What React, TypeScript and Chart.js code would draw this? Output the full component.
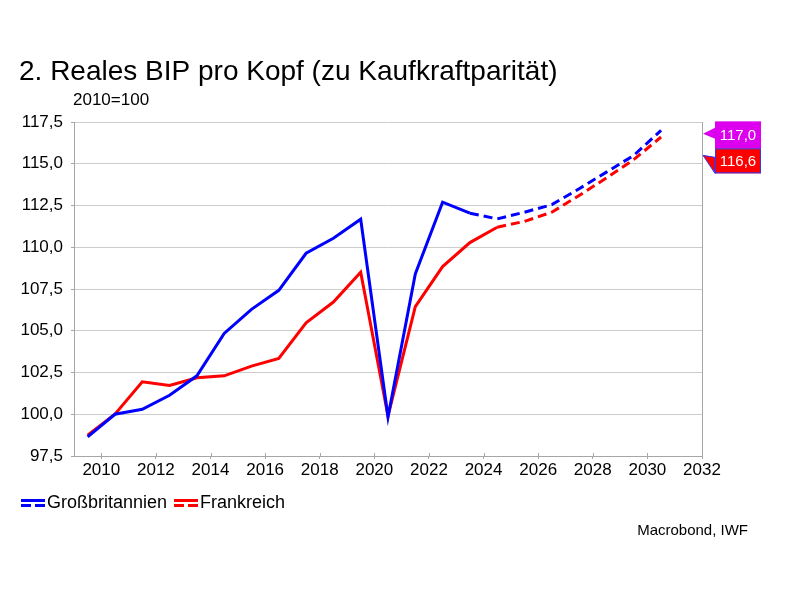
import { useEffect, useRef } from "react";
import { Chart, registerables } from "chart.js";

Chart.register(...registerables);

const years = [2009, 2010, 2011, 2012, 2013, 2014, 2015, 2016, 2017, 2018, 2019, 2020, 2021, 2022, 2023, 2024, 2025, 2026, 2027, 2028, 2029, 2030];
const gbValues = [98.64, 100.0, 100.3, 101.14, 102.3, 104.84, 106.28, 107.42, 109.64, 110.54, 111.68, 99.84, 108.4, 112.7, 112.04, 111.7, 112.1, 112.55, 113.5, 114.5, 115.5, 117.0];
const frValues = [98.74, 100.0, 101.94, 101.72, 102.18, 102.3, 102.88, 103.34, 105.48, 106.72, 108.5, 99.9, 106.44, 108.84, 110.28, 111.2, 111.55, 112.1, 113.1, 114.15, 115.25, 116.6];
const gbForecastFrom = 2023;
const frForecastFrom = 2024;
const xTickYears = [2010, 2012, 2014, 2016, 2018, 2020, 2022, 2024, 2026, 2028, 2030, 2032];
const seriesNames = ["Großbritannien", "Frankreich"];
const titleText = "2. Reales BIP pro Kopf (zu Kaufkraftparität)";
const subtitleText = "2010=100";
const sourceText = "Macrobond, IWF";

const FONT = '"Liberation Sans", Arial, sans-serif';
const fmt = (v: number) => v.toFixed(1).replace(".", ",");

export default function App() {
  const ref = useRef<HTMLCanvasElement | null>(null);

  useEffect(() => {
    document.body.style.margin = "0";
    const canvas = ref.current;
    if (!canvas) return;

    const overlay = {
      id: "overlay",
      afterDraw(chart: any) {
        const ctx = chart.ctx;
        const area = chart.chartArea;
        const y = chart.scales.y;
        const x = chart.scales.x;
        ctx.save();
        // right border
        ctx.strokeStyle = "#a6a6a6";
        ctx.lineWidth = 1;
        ctx.beginPath();
        ctx.moveTo(Math.round(area.right) + 0.5, area.top);
        ctx.lineTo(Math.round(area.right) + 0.5, area.bottom);
        ctx.stroke();
        // small tick marks crossing into the plot
        ctx.beginPath();
        xTickYears.forEach((v) => {
          const px = Math.round(x.getPixelForValue(v)) + 0.5;
          ctx.moveTo(px, area.bottom - 3);
          ctx.lineTo(px, area.bottom);
        });
        ctx.stroke();

        // title
        ctx.fillStyle = "#000";
        ctx.textAlign = "left";
        ctx.textBaseline = "alphabetic";
        ctx.font = `28px ${FONT}`;
        ctx.fillText(titleText, 19, 80);
        ctx.font = `17px ${FONT}`;
        ctx.fillText(subtitleText, 73, 105);

        // legend
        const legendItems = [
          { name: seriesNames[0], color: "#0000ff", x: 21 },
          { name: seriesNames[1], color: "#ff0000", x: 174 },
        ];
        ctx.font = `18px ${FONT}`;
        ctx.textBaseline = "middle";
        legendItems.forEach((it) => {
          ctx.fillStyle = it.color;
          ctx.fillRect(it.x, 499, 24, 3);
          ctx.fillRect(it.x, 504, 10, 3);
          ctx.fillRect(it.x + 14, 504, 10, 3);
          ctx.fillStyle = "#000";
          ctx.fillText(it.name, it.x + 26, 503);
        });

        // source
        ctx.font = `15px ${FONT}`;
        ctx.textAlign = "right";
        ctx.fillText(sourceText, 748, 531);

        // end labels
        const gbLast = gbValues[gbValues.length - 1];
        const frLast = frValues[frValues.length - 1];
        const bx = area.right + 13;
        const bw = 46;
        const gbTop = y.getPixelForValue(gbLast) - 9;
        const gbH = 27;
        const frTop = gbTop + gbH;
        const frH = 25;
        const tipX = area.right + 1;

        ctx.fillStyle = "#dd00ee";
        ctx.beginPath();
        ctx.moveTo(tipX, gbTop + 12.5);
        ctx.lineTo(bx, gbTop + 6.5);
        ctx.lineTo(bx, gbTop + 17.5);
        ctx.closePath();
        ctx.fill();
        ctx.fillRect(bx, gbTop, bw, gbH);

        ctx.fillStyle = "#ff0000";
        ctx.strokeStyle = "#3333ff";
        ctx.lineWidth = 1;
        ctx.beginPath();
        ctx.moveTo(tipX, frTop + 7);
        ctx.lineTo(bx, frTop + 9);
        ctx.lineTo(bx, frTop + frH);
        ctx.closePath();
        ctx.fill();
        ctx.stroke();
        ctx.fillRect(bx, frTop, bw, frH);
        ctx.strokeRect(bx + 0.5, frTop + 0.5, bw - 1, frH - 1);

        ctx.fillStyle = "#fff";
        ctx.font = `15px ${FONT}`;
        ctx.textAlign = "center";
        ctx.textBaseline = "middle";
        ctx.fillText(fmt(gbLast), bx + bw / 2, gbTop + gbH / 2 + 1);
        ctx.fillText(fmt(frLast), bx + bw / 2, frTop + frH / 2 + 1);
        ctx.restore();
      },
    };

    const mk = (vals: number[], color: string, split: number) => ({
      label: "",
      data: years.map((yr, i) => ({ x: yr + 0.5, y: vals[i] })),
      borderColor: color,
      backgroundColor: color,
      borderWidth: 3,
      pointRadius: 0,
      tension: 0,
      segment: {
        borderDash: (c: any) => (c.p0.parsed.x >= split + 0.5 ? [9, 5] : undefined),
      },
    });

    const chart = new Chart(canvas, {
      type: "line",
      data: {
        datasets: [
          { ...mk(gbValues, "#0000ff", gbForecastFrom), label: seriesNames[0] },
          { ...mk(frValues, "#ff0000", frForecastFrom), label: seriesNames[1] },
        ],
      },
      options: {
        responsive: false,
        animation: false,
        devicePixelRatio: 1,
        layout: { padding: { left: 0, top: 122, right: 87, bottom: 104 } },
        plugins: {
          legend: { display: false },
          title: { display: false },
          tooltip: { enabled: false },
        },
        scales: {
          x: {
            type: "linear",
            min: 2009,
            max: 2032,
            afterBuildTicks: (s: any) => {
              s.ticks = xTickYears.map((v) => ({ value: v }));
            },
            afterFit: (s: any) => {
              s.height = 30;
            },
            ticks: {
              color: "#000",
              font: { family: FONT, size: 17 },
              padding: 1,
              maxRotation: 0,
              autoSkip: false,
              callback: (v: any) => String(v),
            },
            grid: { drawOnChartArea: false, tickLength: 3, color: "#a6a6a6" },
            border: { color: "#a6a6a6" },
          },
          y: {
            min: 97.5,
            max: 117.5,
            afterFit: (s: any) => {
              s.width = 74;
            },
            ticks: {
              stepSize: 2.5,
              color: "#000",
              font: { family: FONT, size: 17 },
              padding: 8,
              callback: (v: any) => fmt(Number(v)),
            },
            grid: { color: "#cccccc", tickColor: "#a6a6a6", tickLength: 3 },
            border: { color: "#a6a6a6" },
          },
        },
      },
      plugins: [overlay],
    });
    return () => chart.destroy();
  }, []);

  return (
    <div style={{ width: 789, height: 590 }}>
      <canvas ref={ref} width={789} height={590} style={{ display: "block" }} />
    </div>
  );
}
